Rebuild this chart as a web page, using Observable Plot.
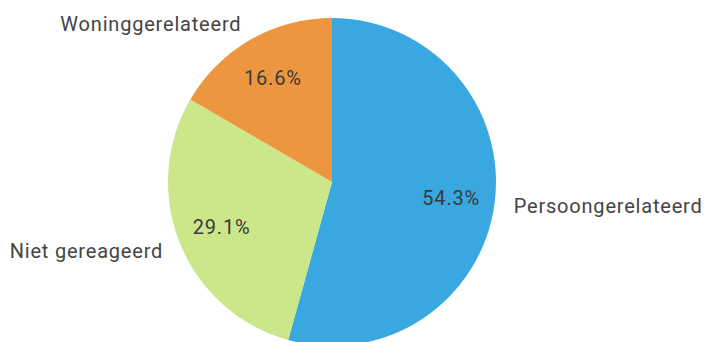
<!DOCTYPE html>
<html><head><meta charset="utf-8">
<script src="https://cdn.jsdelivr.net/npm/d3@7"></script>
<script src="https://cdn.jsdelivr.net/npm/@observablehq/plot@0.6"></script>
<style>body{margin:0;background:#fff}</style>
</head><body><div id="chart"></div>
<script>
const categories = ["Persoongerelateerd", "Niet gereageerd", "Woninggerelateerd"];
const values = [54.3, 29.1, 16.6];
const colors = ["#3aa8e0", "#cce68a", "#ec973f"];

const data = categories.map((c, i) => ({category: c, value: values[i], color: colors[i]}));
const arcs = d3.pie().sort(null).value(d => d.value)(data);
const labelData = arcs.map(a => {
  const m = (a.startAngle + a.endAngle) / 2;
  return {
    ...a.data, mid: m,
    ix: 0.73 * Math.sin(m), iy: 0.73 * Math.cos(m),
    ox: 1.115 * Math.sin(m), oy: 1.11 * Math.cos(m)
  };
});

function pieMark(index, scales, values, dimensions, context) {
  const cx = scales.x(0), cy = scales.y(0);
  const r = Math.abs(scales.x(1) - scales.x(0));
  const arc = d3.arc().innerRadius(0).outerRadius(r);
  const g = d3.create("svg:g").attr("transform", `translate(${cx},${cy})`);
  g.selectAll("path").data(arcs).join("path")
    .attr("d", arc).attr("fill", d => d.data.color);
  return g.node();
}

const chart = Plot.plot({
  width: 704, height: 342,
  marginLeft: 168, marginRight: 208, marginTop: 18, marginBottom: -4,
  x: {domain: [-1, 1], axis: null},
  y: {domain: [-1, 1], axis: null},
  style: {fontFamily: "Roboto, sans-serif", background: "#fff"},
  marks: [
    pieMark,
    Plot.text(labelData, {x: "ix", y: "iy", text: d => d.value.toFixed(1) + "%", fontSize: 20, fill: "#3a3a3a"}),
    Plot.text(labelData, {x: "ox", y: "oy", text: "category", fontSize: 20, fill: "#444"}),
  ]
});
chart.querySelectorAll("g[aria-label='text']").forEach((g, gi) => {
  g.querySelectorAll("text").forEach((t, i) => {
    t.setAttribute("letter-spacing", "0.8px");
    if (gi === 1) t.setAttribute("text-anchor", labelData[i].ox >= 0 ? "start" : "end");
  });
});
document.getElementById("chart").append(chart);
</script>
</body></html>
